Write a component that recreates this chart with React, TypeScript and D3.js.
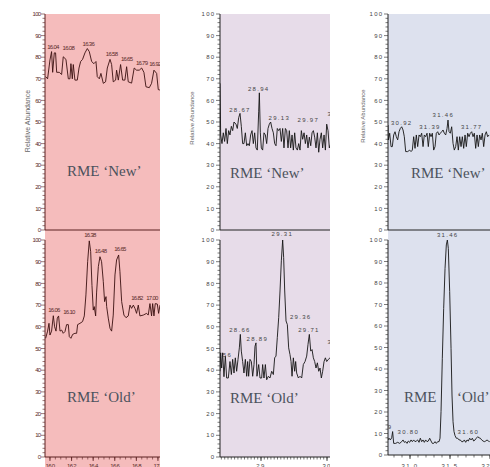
import * as d3 from 'd3';

type Pt = [number, number];
type Peak = { t: number; v: number; text: string };

// retention time (min) vs relative abundance (%)
const LEFT_NEW: Pt[] = [
  [15.96, 71], [15.978, 70], [16.0, 78.7], [16.015, 82.6], [16.025, 73], [16.04, 82], [16.052, 82], [16.062, 73],
  [16.086, 73], [16.108, 72], [16.123, 80.2], [16.148, 79], [16.17, 70], [16.185, 70], [16.194, 77], [16.207, 70],
  [16.216, 76.6], [16.231, 69.4], [16.253, 69.4], [16.269, 75], [16.284, 78], [16.302, 79], [16.324, 82], [16.346, 84],
  [16.364, 82.6], [16.386, 78], [16.407, 77], [16.426, 78], [16.438, 71], [16.457, 70], [16.472, 72.5], [16.494, 67.9],
  [16.515, 68.6], [16.531, 75], [16.556, 79], [16.571, 76.6], [16.586, 68.6], [16.608, 69.4], [16.617, 74], [16.633, 69.4],
  [16.654, 76.6], [16.673, 69.4], [16.694, 69.4], [16.71, 75.6], [16.725, 68.6], [16.756, 68], [16.78, 75], [16.802, 74],
  [16.827, 74], [16.849, 75], [16.87, 73], [16.889, 66.3], [16.92, 65.9], [16.941, 67.9], [16.963, 74], [16.988, 72.5],
  [17.003, 65], [17.018, 64.8],
];
const LEFT_OLD: Pt[] = [
  [15.96, 54.7], [15.978, 58], [15.991, 61.6], [16.0, 56.2], [16.015, 58], [16.031, 65.1], [16.043, 60], [16.056, 58],
  [16.068, 64], [16.08, 65], [16.093, 58], [16.108, 58.5], [16.123, 57], [16.139, 57.8], [16.154, 61], [16.17, 61],
  [16.179, 55.5], [16.194, 54.7], [16.21, 56.5], [16.231, 57], [16.247, 57], [16.256, 61], [16.278, 61.6], [16.302, 62.4],
  [16.318, 65], [16.333, 74.7], [16.349, 90], [16.364, 99.6], [16.377, 94.6], [16.389, 79], [16.401, 67.7], [16.41, 69.3],
  [16.423, 65], [16.432, 76], [16.448, 87.7], [16.463, 92.3], [16.478, 90], [16.494, 80.8], [16.506, 71.6], [16.519, 73.9],
  [16.525, 69.3], [16.54, 64], [16.556, 59.3], [16.571, 58], [16.586, 65.4], [16.602, 83.9], [16.617, 90.8], [16.636, 93.1],
  [16.648, 85.4], [16.664, 71.6], [16.685, 65.4], [16.704, 64.2], [16.725, 65], [16.741, 70], [16.756, 68.5], [16.772, 70],
  [16.787, 68.5], [16.802, 66.2], [16.818, 70], [16.833, 65], [16.864, 65.4], [16.895, 66.2], [16.91, 65.4], [16.926, 70.7],
  [16.941, 65], [16.951, 70.7], [16.963, 65], [16.975, 70.7], [16.994, 70.5], [17.006, 66.2], [17.019, 70],
];
const MID_NEW: Pt[] = [
  [28.379, 67.9], [28.389, 44], [28.409, 40], [28.429, 45], [28.449, 41], [28.47, 47], [28.49, 40], [28.51, 46],
  [28.53, 44], [28.551, 48], [28.571, 46], [28.591, 50], [28.621, 49], [28.641, 47], [28.662, 52], [28.682, 54],
  [28.702, 48], [28.722, 40], [28.742, 40], [28.763, 45], [28.783, 39], [28.803, 40], [28.823, 39], [28.843, 44],
  [28.864, 46], [28.884, 40], [28.904, 45], [28.924, 38], [28.944, 37], [28.965, 55], [28.975, 63.5], [28.99, 45],
  [29.005, 38], [29.025, 37], [29.045, 45], [29.066, 44], [29.086, 40], [29.106, 47], [29.126, 49], [29.146, 50],
  [29.167, 47], [29.187, 45], [29.207, 40], [29.227, 39], [29.247, 47], [29.268, 46], [29.288, 47], [29.308, 41],
  [29.328, 47], [29.348, 38], [29.369, 47], [29.389, 46], [29.409, 38], [29.429, 46], [29.449, 38], [29.47, 44],
  [29.49, 37], [29.51, 45], [29.53, 38], [29.551, 37], [29.571, 40], [29.591, 37], [29.611, 46], [29.631, 42],
  [29.652, 45], [29.672, 40], [29.692, 44], [29.712, 38], [29.732, 43], [29.753, 39], [29.773, 45], [29.793, 46],
  [29.813, 43], [29.833, 38], [29.854, 45], [29.874, 36], [29.894, 42], [29.914, 45], [29.934, 38], [29.955, 44],
  [29.975, 37], [29.995, 49], [30.015, 46], [30.035, 38], [30.056, 40],
];
const MID_OLD: Pt[] = [
  [28.379, 39.5], [28.389, 48], [28.404, 41], [28.419, 48], [28.439, 37], [28.46, 46.5], [28.48, 36.4], [28.505, 36.4],
  [28.53, 44], [28.551, 38], [28.571, 45], [28.591, 38.7], [28.611, 45.7], [28.631, 39.5], [28.652, 45], [28.672, 50.3],
  [28.687, 56.5], [28.702, 48.8], [28.722, 44], [28.742, 38.7], [28.763, 45], [28.783, 37.2], [28.798, 44], [28.813, 37.2],
  [28.833, 45], [28.854, 44], [28.874, 37.2], [28.894, 42.6], [28.909, 51], [28.924, 52.6], [28.939, 37.2], [28.965, 42.6],
  [28.985, 36.4], [29.01, 36.4], [29.025, 42.6], [29.045, 36.4], [29.066, 42.6], [29.086, 35.6], [29.111, 37.2], [29.136, 36.4],
  [29.162, 39.5], [29.187, 38], [29.207, 45.7], [29.227, 46.5], [29.247, 55], [29.268, 64.2], [29.288, 76.5], [29.308, 90.4],
  [29.328, 100], [29.343, 92], [29.359, 76.5], [29.379, 62.7], [29.399, 61], [29.419, 50.3], [29.439, 47.2], [29.455, 44],
  [29.47, 37.2], [29.49, 45.7], [29.51, 39.5], [29.525, 44], [29.54, 38.7], [29.566, 36.4], [29.591, 37.2], [29.616, 36.4],
  [29.641, 42.6], [29.667, 44], [29.692, 46.5], [29.712, 51.9], [29.732, 56.5], [29.753, 48.8], [29.773, 49.5], [29.793, 45.7],
  [29.813, 44], [29.833, 41], [29.854, 43.4], [29.874, 39.5], [29.894, 41], [29.914, 36.4], [29.934, 39.5], [29.955, 44],
  [29.975, 45.7], [29.995, 44], [30.02, 45], [30.045, 45.7],
];
const RIGHT_NEW: Pt[] = [
  [30.725, 48.6], [30.729, 41.7], [30.746, 44.8], [30.763, 38.6], [30.779, 38.6], [30.796, 44], [30.813, 45.5], [30.829, 43.2],
  [30.846, 41.7], [30.863, 45.5], [30.879, 47], [30.896, 47.8], [30.913, 46.3], [30.929, 43.2], [30.946, 36.3], [30.971, 36.3],
  [30.996, 37], [31.013, 36.3], [31.029, 37], [31.046, 43.2], [31.063, 37.8], [31.079, 44], [31.096, 38.6], [31.113, 44],
  [31.129, 43.2], [31.146, 44.8], [31.163, 38.6], [31.179, 44], [31.196, 43.2], [31.213, 44.8], [31.229, 38.6], [31.246, 44.8],
  [31.263, 43.2], [31.279, 44.8], [31.296, 37], [31.313, 38.6], [31.329, 44.8], [31.346, 45.5], [31.363, 44], [31.379, 44.8],
  [31.396, 45.5], [31.413, 46.3], [31.429, 44.8], [31.446, 44], [31.463, 47], [31.475, 50.9], [31.488, 45.5], [31.504, 44.8],
  [31.521, 47.8], [31.538, 40.1], [31.554, 37], [31.571, 38.6], [31.588, 43.2], [31.604, 37], [31.621, 43.2], [31.638, 38.6],
  [31.654, 43.2], [31.671, 37.8], [31.688, 44], [31.704, 38.6], [31.721, 44.8], [31.738, 43.2], [31.754, 44.8], [31.771, 45.5],
  [31.788, 43.2], [31.804, 44.8], [31.821, 37.8], [31.838, 44], [31.854, 38.6], [31.871, 44], [31.888, 41.7], [31.904, 44.8],
  [31.921, 38.6], [31.938, 44], [31.954, 45.5], [31.971, 43.2], [31.988, 44],
];
const RIGHT_OLD: Pt[] = [
  [30.725, 7], [30.738, 7.8], [30.754, 7], [30.771, 8], [30.783, 10.9], [30.796, 5.4], [30.821, 5.4], [30.846, 5.9],
  [30.871, 5.4], [30.896, 6.2], [30.913, 7], [30.929, 5.9], [30.946, 6.2], [30.963, 5.4], [30.979, 6.5], [30.996, 5.9],
  [31.013, 7], [31.029, 6.2], [31.046, 7], [31.063, 6.2], [31.079, 6.5], [31.096, 7], [31.113, 5.9], [31.129, 7.8],
  [31.146, 6.2], [31.163, 7], [31.179, 5.9], [31.196, 7], [31.213, 6.2], [31.229, 6.5], [31.246, 7.8], [31.263, 6.5],
  [31.279, 5.4], [31.296, 5.4], [31.313, 6.2], [31.329, 5.4], [31.346, 6.2], [31.363, 6.2], [31.375, 7.8], [31.388, 20.2],
  [31.404, 45], [31.421, 68.2], [31.438, 86.8], [31.454, 97.7], [31.467, 100], [31.479, 96.1], [31.496, 76], [31.513, 49.6],
  [31.525, 27.9], [31.538, 15.5], [31.55, 10.9], [31.563, 9], [31.579, 7.8], [31.596, 7.8], [31.613, 7], [31.629, 7],
  [31.646, 6.2], [31.663, 6.2], [31.679, 7], [31.696, 5.9], [31.713, 7], [31.729, 6.5], [31.746, 7.8], [31.763, 7],
  [31.779, 7.8], [31.796, 6.5], [31.813, 7], [31.829, 7.8], [31.846, 8.5], [31.863, 8], [31.879, 7.8], [31.896, 7],
  [31.913, 6.5], [31.929, 6.2], [31.946, 6.5], [31.963, 7], [31.979, 6.5], [31.996, 6.2],
];

// peak annotations: label position (time, abundance) and text
const LEFT_NEW_PEAKS: Peak[] = [
  { t: 16.028, v: 84, text: '16.04' }, { t: 16.17, v: 83.5, text: '16.08' }, { t: 16.355, v: 85.2, text: '16.36' },
  { t: 16.571, v: 80.6, text: '16.58' }, { t: 16.71, v: 78.2, text: '16.65' }, { t: 16.849, v: 76.6, text: '16.79' },
  { t: 16.972, v: 75.9, text: '16.92' },
];
const LEFT_OLD_PEAKS: Peak[] = [
  { t: 16.37, v: 101.4, text: '16.38' }, { t: 16.469, v: 94, text: '16.48' }, { t: 16.648, v: 95, text: '16.65' },
  { t: 16.037, v: 66.8, text: '16.06' }, { t: 16.176, v: 65.9, text: '16.10' }, { t: 16.806, v: 72.4, text: '16.82' },
  { t: 16.944, v: 72.4, text: '17.00' },
];
const MID_NEW_PEAKS: Peak[] = [
  { t: 28.682, v: 54.6, text: '28.67' }, { t: 28.965, v: 64.4, text: '28.94' }, { t: 29.278, v: 50.9, text: '29.13' },
  { t: 29.717, v: 50, text: '29.97' }, { t: 30.17, v: 52.8, text: '30.03' },
];
const MID_OLD_PEAKS: Peak[] = [
  { t: 29.323, v: 101.9, text: '29.31' }, { t: 29.601, v: 63.7, text: '29.36' }, { t: 28.682, v: 57.4, text: '28.66' },
  { t: 28.944, v: 53.5, text: '28.89' }, { t: 29.727, v: 57.4, text: '29.71' }, { t: 28.4, v: 46.3, text: '28.56' },
  { t: 30.17, v: 52.1, text: '30.04' },
];
const RIGHT_NEW_PEAKS: Peak[] = [
  { t: 30.896, v: 48.8, text: '30.92' }, { t: 31.25, v: 46.9, text: '31.39' }, { t: 31.417, v: 52.3, text: '31.46' },
  { t: 31.771, v: 46.6, text: '31.77' },
];
const RIGHT_OLD_PEAKS: Peak[] = [
  { t: 31.471, v: 101.4, text: '31.46' }, { t: 30.979, v: 9.6, text: '30.80' }, { t: 31.729, v: 9.6, text: '31.60' },
  { t: 30.644, v: 12.3, text: '30.69' },
];

const LEFT_X_TICKS = [16.0, 16.2, 16.4, 16.6, 16.8, 17.0];
const LEFT_X_LABELS = ['16.0', '16.2', '16.4', '16.6', '16.8', '17.0'];
const MID_X_TICKS = [29, 30];
const MID_X_LABELS = ['29', '30'];
const RIGHT_X_TICKS = [31.0, 31.5, 32.0];
const RIGHT_X_LABELS = ['31.0', '31.5', '32.0'];
const Y_TICKS = [0, 10, 20, 30, 40, 50, 60, 70, 80, 90, 100];
const CAPTIONS = ['RME ‘New’', 'RME ‘Old’'];
const Y_TITLE = 'Relative Abundance';

const W = 490;
const H = 467;
const SANS = 'Liberation Sans, Arial, sans-serif';
const SERIF = 'Liberation Serif, Times New Roman, serif';

const COLUMNS = [
  {
    id: 'l', domain: [15.954, 17.019], axisX: 45, right: 160, bg: '#f5bcbc', bgBottom: 467,
    ink: '#3a1010', axisInk: '#5a2020', textInk: '#5a2a2a', fs: 6, ls: -0.7,
    minor: 0.05, xTicks: LEFT_X_TICKS, xLabels: LEFT_X_LABELS,
    title: { x: 30, y: 121, fs: 7 },
    rows: [
      { series: LEFT_NEW, peaks: LEFT_NEW_PEAKS, zero: 230, full: 14, caption: [{ x: 67, y: 176 }] },
      { series: LEFT_OLD, peaks: LEFT_OLD_PEAKS, zero: 457, full: 240, caption: [{ x: 67, y: 402 }] },
    ],
  },
  {
    id: 'm', domain: [28.379, 30.045], axisX: 220, right: 330, bg: '#e7dce9', bgBottom: 457,
    ink: '#151515', axisInk: '#222', textInk: '#444', fs: 6, ls: 1.3,
    minor: 0.05, xTicks: MID_X_TICKS, xLabels: MID_X_LABELS,
    title: { x: 194, y: 118, fs: 6 },
    rows: [
      { series: MID_NEW, peaks: MID_NEW_PEAKS, zero: 230, full: 14, caption: [{ x: 230, y: 178 }] },
      { series: MID_OLD, peaks: MID_OLD_PEAKS, zero: 457, full: 240, caption: [{ x: 230, y: 403 }] },
    ],
  },
  {
    id: 'r', domain: [30.725, 32.0], axisX: 388, right: 490, bg: '#dde1ee', bgBottom: 455,
    ink: '#151515', axisInk: '#222', textInk: '#444', fs: 6, ls: 1.3,
    minor: 0.1, xTicks: RIGHT_X_TICKS, xLabels: RIGHT_X_LABELS,
    title: { x: 365, y: 116, fs: 6 },
    rows: [
      { series: RIGHT_NEW, peaks: RIGHT_NEW_PEAKS, zero: 230, full: 14, caption: [{ x: 411, y: 178 }] },
      { series: RIGHT_OLD, peaks: RIGHT_OLD_PEAKS, zero: 455, full: 240, caption: [{ x: 404, y: 402 }, { x: 457, y: 402 }] },
    ],
  },
];

function Column({ c }: { c: (typeof COLUMNS)[number] }) {
  const x = d3.scaleLinear().domain(c.domain).range([c.axisX, c.right]);
  const minorX = d3.range(Math.ceil(c.domain[0] / c.minor) * c.minor, c.domain[1] + 1e-9, c.minor);
  const minorY = d3.range(0, 101, 2);
  const last = c.rows[c.rows.length - 1];
  const clipId = `clip-${c.id}`;
  const clipXId = `clipx-${c.id}`;

  return (
    <g>
      <defs>
        <clipPath id={clipId}>
          <rect x={c.axisX} y={0} width={c.right - c.axisX} height={H} />
        </clipPath>
        <clipPath id={clipXId}>
          <rect x={c.axisX - 8} y={0} width={c.right - c.axisX + 8} height={H} />
        </clipPath>
      </defs>
      <rect x={c.axisX} y={14} width={c.right - c.axisX} height={c.bgBottom - 14} fill={c.bg} />

      {c.rows.map((row, ri) => {
        const y = d3.scaleLinear().domain([0, 100]).range([row.zero, row.full]);
        const line = d3.line<Pt>().x((d) => x(d[0])).y((d) => y(d[1]));
        const words = row.caption.length > 1 ? CAPTIONS[ri].split(' ') : [CAPTIONS[ri]];
        return (
          <g key={ri}>
            {minorY.map((v) => (
              <line key={`m${v}`} x1={c.axisX - (v % 10 === 0 ? 4 : 2.5)} x2={c.axisX} y1={y(v)} y2={y(v)} stroke={c.axisInk} strokeWidth={0.6} />
            ))}
            {Y_TICKS.map((v) => (
              <text key={v} x={c.axisX - 4.5} y={y(v)} dy="0.35em" textAnchor="end" fontSize={c.fs} letterSpacing={c.ls} fill={c.textInk} fontFamily={SANS}>
                {v}
              </text>
            ))}
            <line x1={c.axisX} x2={c.axisX} y1={row.full} y2={row.zero} stroke={c.axisInk} strokeWidth={1} />
            {ri === 0 && (
              <line x1={c.axisX} x2={c.right} y1={row.zero} y2={row.zero} stroke={c.axisInk} strokeWidth={1} />
            )}
            {words.map((w, wi) => (
              <text key={wi} x={row.caption[wi].x} y={row.caption[wi].y} fontSize={15} fontFamily={SERIF} fill="#4c525c">
                {w}
              </text>
            ))}
            <g clipPath={`url(#${clipId})`}>
              <path d={line(row.series) ?? ''} fill="none" stroke={c.ink} strokeWidth={0.9} strokeLinejoin="round" />
              {row.peaks.map((p) => (
                <text key={p.text + p.t} x={x(p.t)} y={y(p.v)} textAnchor="middle" fontSize={c.fs} letterSpacing={c.ls} fill={c.textInk} fontFamily={SANS}>
                  {p.text}
                </text>
              ))}
            </g>
            {ri === 0 && (
              <text
                transform={`translate(${c.title.x},${c.title.y}) rotate(-90)`}
                textAnchor="middle"
                fontSize={c.title.fs}
                fill="#666"
                fontFamily={SANS}
              >
                {Y_TITLE}
              </text>
            )}
          </g>
        );
      })}

      <line x1={c.axisX} x2={c.right} y1={last.zero} y2={last.zero} stroke={c.axisInk} strokeWidth={1} />
      {minorX.map((t) => (
        <line key={t} x1={x(t)} x2={x(t)} y1={last.zero} y2={last.zero + 2.5} stroke={c.axisInk} strokeWidth={0.6} />
      ))}
      {c.xTicks.map((t) => (
        <line key={`M${t}`} x1={x(t)} x2={x(t)} y1={last.zero} y2={last.zero + 4} stroke={c.axisInk} strokeWidth={0.8} />
      ))}
      <g clipPath={`url(#${clipXId})`}>
        {c.xTicks.map((t, i) => (
          <text key={t} x={x(t)} y={467.5} textAnchor="middle" fontSize={c.fs} letterSpacing={c.ls} fill={c.textInk} fontFamily={SANS}>
            {c.xLabels[i]}
          </text>
        ))}
      </g>
    </g>
  );
}

export default function App() {
  return (
    <svg width={W} height={H} viewBox={`0 0 ${W} ${H}`} style={{ position: 'absolute', left: 0, top: 0, background: '#fff' }}>
      {COLUMNS.map((c) => (
        <Column key={c.id} c={c} />
      ))}
    </svg>
  );
}
